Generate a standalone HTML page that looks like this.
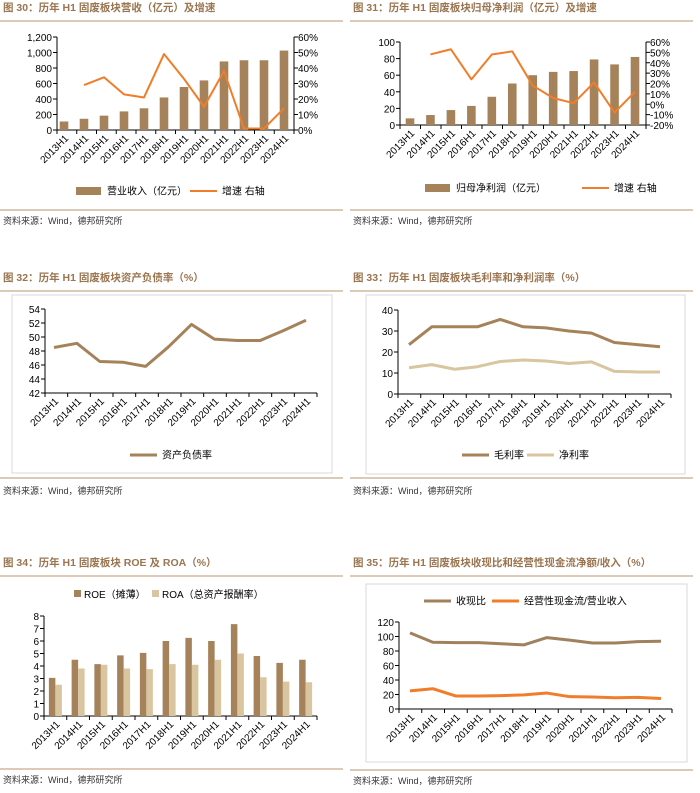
<!DOCTYPE html>
<html><head><meta charset="utf-8"><style>
body{margin:0;background:#fff;}
svg{display:block;font-family:"Liberation Sans","Noto Sans CJK SC",sans-serif;}
.t{font-size:10px;fill:#000;}
.ttl{font-size:10.5px;font-weight:bold;fill:#9a7550;}
.src{font-size:9px;fill:#333;}
</style></head><body>
<svg id="s" width="700" height="793" viewBox="0 0 700 793"></svg>
<script>
const cats=['2013H1','2014H1','2015H1','2016H1','2017H1','2018H1','2019H1','2020H1','2021H1','2022H1','2023H1','2024H1'];
const revenue=[110,145,185,240,280,420,555,640,885,900,900,1025];
const revGrowth=[null,29,34,23,21,49,33,15,38,1,1,14];
const profit=[8,12,18,23,34,50,60,64,65,79,73,82];
const profitGrowth=[null,48,53,24,48,51,18,6,1,21,-8,12];
const debtRatio=[48.5,49.1,46.5,46.4,45.8,48.6,51.8,49.7,49.5,49.5,50.9,52.4];
const grossMargin=[23.5,32,32,32,35.5,32,31.5,30,29,24.5,23.5,22.5];
const netMargin=[12.5,14,11.8,13,15.5,16.2,15.7,14.5,15.3,10.8,10.5,10.5];
const roe=[3.05,4.5,4.15,4.85,5.05,6,6.25,6,7.35,4.8,4.25,4.5];
const roa=[2.5,3.8,4.1,3.8,3.75,4.15,4.1,4.5,5,3.1,2.75,2.7];
const cashRatio=[105,92,91.5,91.5,90,88.5,98.5,95,91,91,93,93.5];
const cfoRatio=[25,28,18,18,18.5,19.5,22,17,16.5,15.5,16,14.5];
const revTicks=['0','200','400','600','800','1,000','1,200'];
const pctTicks1=['0%','10%','20%','30%','40%','50%','60%'];
const pctTicks2=['-20%','-10%','0%','10%','20%','30%','40%','50%','60%'];

const S=document.getElementById('s');
const NS='http://www.w3.org/2000/svg';
function el(tag,attrs,parent,text){const e=document.createElementNS(NS,tag);for(const k in attrs)e.setAttribute(k,attrs[k]);if(text!=null)e.textContent=text;(parent||S).appendChild(e);return e;}
const BAR='#a5825a',ORG='#f07d2a',LIGHT='#d9c59f',RULE='#b8946c';

function frame(x0,y0,title,ruleY,srcY,box){
  const t=el('text',{x:x0+3,y:y0,class:'ttl'},S,title);
  
  el('line',{x1:x0,x2:x0+343,y1:y0+10,y2:y0+10,stroke:RULE,'stroke-width':1});
  el('line',{x1:x0,x2:x0+343,y1:ruleY,y2:ruleY,stroke:RULE,'stroke-width':1});
  const s=el('text',{x:x0+3,y:srcY,class:'src'},S,'资料来源：Wind，德邦研究所');
  
  if(box)el('rect',{x:box[0],y:box[1],width:box[2]-box[0],height:box[3]-box[1],fill:'none',stroke:'#d9d9d9'});
}
function axes(g,ax,axEnd,y0,first,step){
  el('line',{x1:ax,x2:ax,y1:g.top,y2:y0,stroke:'#000'});
  el('line',{x1:ax,x2:axEnd,y1:y0,y2:y0,stroke:'#000'});
  for(let i=0;i<=12;i++){const x=ax+(axEnd-ax)*i/12;el('line',{x1:x,x2:x,y1:y0,y2:y0+4,stroke:'#000'});}
  cats.forEach((c,i)=>{const x=first+step*i;
    const t=el('text',{class:'t','font-size':'10',transform:`translate(${x+5},${y0+9}) rotate(-45)`,'text-anchor':'end'},S,c);
    });
}
function yTicks(labels,ax,yf,vals,side){
  labels.forEach((l,i)=>{const y=yf(vals[i]);
    el('line',{x1:ax,x2:ax+(side?4:-4),y1:y,y2:y,stroke:'#000'});
    const t=el('text',{x:side?ax+4:ax-5,y:y+4,class:'t','font-size':'11','text-anchor':side?'start':'end'},S,l);
    });
}
function line(vals,xf,yf,color,w,name){
  let d='';vals.forEach((v,i)=>{if(v==null)return;d+=(d?'L':'M')+xf(i)+','+yf(v);});
  const p=el('path',{d,fill:'none',stroke:color,'stroke-width':w,'stroke-linejoin':'round'});
  
}
function legendLine(x,y,color,w,label){el('line',{x1:x,x2:x+27,y1:y,y2:y,stroke:color,'stroke-width':w});
  const t=el('text',{x:x+32,y:y+3.5,class:'t','font-size':'9.5'},S,label);}
function legendBar(x,y,color,label,w){el('rect',{x,y:y-4,width:w||25,height:8,fill:color});
  const t=el('text',{x:x+(w||25)+6,y:y+3.5,class:'t','font-size':'9.5'},S,label);}

// Chart 30
frame(0,11,'图 30：历年 H1 固废板块营收（亿元）及增速',210,224);
(function(){const ax=57,axR=294,y0=130,top=37,first=64,step=20;
 const yL=v=>y0-(y0-top)*v/1200, yR=v=>y0-(y0-top)*v/60, xf=i=>first+step*i;
 axes({top},ax,axR,y0,first,step);
 el('line',{x1:axR,x2:axR,y1:top,y2:y0,stroke:'#000'});
 yTicks(revTicks,ax,yL,[0,200,400,600,800,1000,1200],false);
 yTicks(pctTicks1,axR,yR,[0,10,20,30,40,50,60],true);
 revenue.forEach((v,i)=>{const b=el('rect',{x:xf(i)-4.3,y:yL(v),width:8.6,height:y0-yL(v),fill:BAR});
  });
 line(revGrowth,xf,yR,ORG,2,'line-revenue-growth');
 legendBar(76,191,BAR,'营业收入（亿元）');legendLine(190,191,ORG,2,'增速 右轴');
})();

// Chart 31
frame(350,11,'图 31：历年 H1 固废板块归母净利润（亿元）及增速',210,224);
(function(){const ax=400,axR=646,y0=125,top=42,first=410,step=(635-410)/11;
 const yL=v=>y0-(y0-top)*v/100, yR=v=>y0-(y0-top)*(v+20)/80, xf=i=>first+step*i;
 axes({top},ax,axR,y0,first,step);
 el('line',{x1:axR,x2:axR,y1:top,y2:y0,stroke:'#000'});
 yTicks(['0','20','40','60','80','100'],ax,yL,[0,20,40,60,80,100],false);
 yTicks(pctTicks2,axR,yR,[-20,-10,0,10,20,30,40,50,60],true);
 profit.forEach((v,i)=>{const b=el('rect',{x:xf(i)-4.3,y:yL(v),width:8.6,height:y0-yL(v),fill:BAR});
  });
 line(profitGrowth,xf,yR,ORG,2,'line-profit-growth');
 legendBar(425,188,BAR,'归母净利润（亿元）');legendLine(582,188,ORG,2,'增速 右轴');
})();

// Chart 32
frame(0,281,'图 32：历年 H1 固废板块资产负债率（%）',478,494,[12,295,332,473]);
(function(){const ax=45,axE=317,y0=393,top=309,first=54,step=(306-54)/11;
 const yf=v=>y0-(y0-top)*(v-42)/12, xf=i=>first+step*i;
 axes({top},ax,axE,y0,first,step);
 yTicks(['42','44','46','48','50','52','54'],ax,yf,[42,44,46,48,50,52,54],false);
 line(debtRatio,xf,yf,BAR,3,'line-debt-ratio');
 legendLine(130,455,BAR,3,'资产负债率');
})();

// Chart 33
frame(350,281,'图 33：历年 H1 固废板块毛利率和净利润率（%）',478,494,[366,295,685,474]);
(function(){const ax=398,axE=671,y0=394,top=310,first=409,step=(660-409)/11;
 const yf=v=>y0-(y0-top)*v/40, xf=i=>first+step*i;
 axes({top},ax,axE,y0,first,step);
 yTicks(['0','10','20','30','40'],ax,yf,[0,10,20,30,40],false);
 line(grossMargin,xf,yf,BAR,3,'line-gross-margin');
 line(netMargin,xf,yf,LIGHT,3,'line-net-margin');
 legendLine(462,455,BAR,3,'毛利率');legendLine(527,455,LIGHT,3,'净利率');
})();

// Chart 34
frame(0,566,'图 34：历年 H1 固废板块 ROE 及 ROA（%）',769,783);
(function(){const ax=44,axE=317,y0=716,top=616,step=(317-44)/12,first=ax+step/2;
 const yf=v=>y0-(y0-top)*v/8, xf=i=>first+step*i;
 axes({top},ax,axE,y0,first,step);
 yTicks(['0','1','2','3','4','5','6','7','8'],ax,yf,[0,1,2,3,4,5,6,7,8],false);
 roe.forEach((v,i)=>{const b=el('rect',{x:xf(i)-6.5,y:yf(v),width:6.5,height:y0-yf(v),fill:BAR});
  });
 roa.forEach((v,i)=>{const b=el('rect',{x:xf(i),y:yf(v),width:6.5,height:y0-yf(v),fill:LIGHT});
  });
 el('rect',{x:74,y:590,width:7,height:7,fill:BAR});
 let t=el('text',{x:84,y:598,class:'t','font-size':'10'},S,'ROE（摊薄）');
 el('rect',{x:152,y:590,width:7,height:7,fill:LIGHT});
 t=el('text',{x:162,y:598,class:'t','font-size':'10'},S,'ROA（总资产报酬率）');
})();

// Chart 35
frame(350,566,'图 35：历年 H1 固废板块收现比和经营性现金流净额/收入（%）',770,784,[366,584,687,762]);
(function(){const ax=399,axE=672,y0=709,top=622,first=410,step=(661-410)/11;
 const yf=v=>y0-(y0-top)*v/120, xf=i=>first+step*i;
 axes({top},ax,axE,y0,first,step);
 yTicks(['0','20','40','60','80','100','120'],ax,yf,[0,20,40,60,80,100,120],false);
 line(cashRatio,xf,yf,'#a0815e',3,'line-cash-ratio');
 line(cfoRatio,xf,yf,ORG,3,'line-cfo-revenue');
 legendLine(424,601,'#a0815e',3,'收现比');legendLine(492,601,ORG,3,'经营性现金流/营业收入');
})();
</script>
</body></html>
